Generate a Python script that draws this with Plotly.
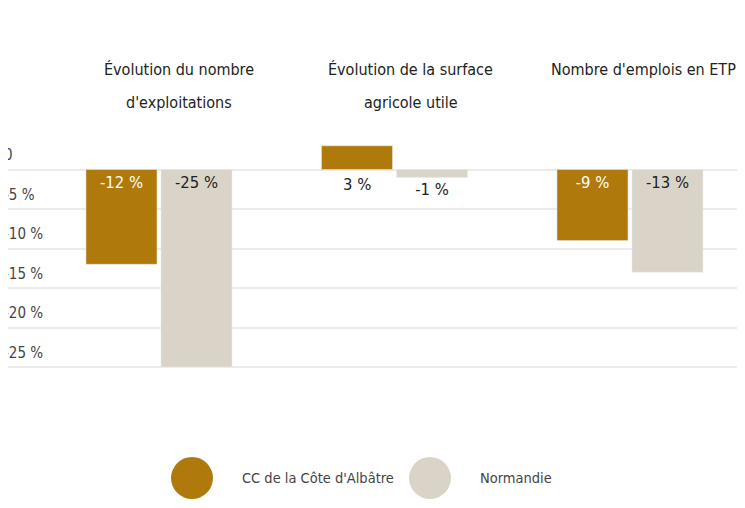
import plotly.graph_objects as go

categories = ["Évolution du nombre d'exploitations",
              "Évolution de la surface agricole utile",
              "Nombre d'emplois en ETP"]
title_lines = [["Évolution du nombre", "d'exploitations"],
               ["Évolution de la surface", "agricole utile"],
               ["Nombre d'emplois en ETP"]]
series_names = ["CC de la Côte d'Albâtre", "Normandie"]
values_cc = [-12, 3, -9]
values_norm = [-25, -1, -13]
ytick_vals = [0, -5, -10, -15, -20, -25]
ytick_text = ["0", "-5 %", "-10 %", "-15 %", "-20 %", "-25 %"]

COL_CC = "#B0790B"
COL_NORM = "#D9D4C7"
FONT = "DejaVu Sans Condensed, Liberation Sans Narrow, sans-serif"

OFF = 8  # page body margin
W, H = 745 - OFF, 508 - OFF
ML, MR, MT, MB = 0, 0, 122, 102
PW, PH = W - ML - MR, H - MT - MB
ZERO = 169.5 - OFF   # zero line (figure px)
UNIT = 7.9           # px per percent


def py(y):  # window pixel y -> paper y
    return (H - MB - (y - OFF)) / PH


def px(x):  # window pixel x -> paper x
    return (x - OFF - ML) / PW


def lab(v):
    return f"{v} %"


fig = go.Figure()
fig.add_trace(go.Bar(
    x=categories, y=values_cc, name=series_names[0], marker_color=COL_CC,
    text=[lab(v) if v < 0 else "" for v in values_cc],
    textposition="inside", insidetextanchor="start",
    insidetextfont=dict(color="white", size=16.5, family=FONT),
    textangle=0, showlegend=False, cliponaxis=False,
))
fig.add_trace(go.Bar(
    x=categories, y=values_norm, name=series_names[1], marker_color=COL_NORM,
    text=[lab(v) for v in values_norm],
    textposition=["inside" if v < -3 else "outside" for v in values_norm],
    insidetextanchor="start",
    insidetextfont=dict(color="#222222", size=16.5, family=FONT),
    outsidetextfont=dict(color="#222222", size=16.5, family=FONT),
    textangle=0, showlegend=False, cliponaxis=False,
))

annotations = []
# label for the positive bar, drawn below the zero line
for i, v in enumerate(values_cc):
    if v >= 0:
        annotations.append(dict(x=categories[i], y=0, xref="x", yref="y",
                                text=lab(v), showarrow=False, xshift=-37.5,
                                yanchor="top", yshift=-3,
                                font=dict(size=16.5, color="#222222", family=FONT)))
# category titles
title_shift = [20, 16, 13.5]
for i, lines in enumerate(title_lines):
    for j, line in enumerate(lines):
        annotations.append(dict(x=categories[i], xref="x", y=py(70 + 32 * j), yref="paper",
                                text=line, showarrow=False, xshift=title_shift[i],
                                yanchor="middle", xanchor="center",
                                font=dict(size=16, color="#222222", family=FONT)))
# legend
shapes = []
leg = [(192, 240, COL_CC, series_names[0]), (430, 478, COL_NORM, series_names[1])]
for cx, tx, col, name in leg:
    shapes.append(dict(type="circle", xref="paper", yref="paper",
                       xsizemode="pixel", ysizemode="pixel",
                       xanchor=px(cx), yanchor=py(478),
                       x0=-21, x1=21, y0=-21, y1=21,
                       fillcolor=col, line=dict(width=0)))
    annotations.append(dict(x=px(tx), y=py(478), xref="paper", yref="paper",
                            text=name, showarrow=False, xanchor="left", yanchor="middle",
                            font=dict(size=14.5, color="#444444", family=FONT)))

scale = 235.5
r0 = -(159.0 - OFF) / scale
r1 = r0 + PW / scale

fig.update_layout(
    width=W, height=H,
    margin=dict(l=ML, r=MR, t=MT, b=MB, autoexpand=False),
    plot_bgcolor="white", paper_bgcolor="white",
    barmode="group", bargap=0.363, bargroupgap=0.053,
    font=dict(family=FONT, size=16, color="#444444"),
    xaxis=dict(type="category", range=[r0, r1], showticklabels=False,
               showgrid=False, zeroline=False, showline=False, ticks="",
               automargin=False),
    yaxis=dict(range=[-(H - MB - ZERO) / UNIT, (ZERO - MT) / UNIT],
               tickvals=ytick_vals, ticktext=ytick_text,
               ticklabelposition="inside top", ticks="",
               ticklabelstandoff=-7, ticklabelshift=-4,
               tickfont=dict(size=15, color="#444444", family=FONT),
               showgrid=True, gridcolor="#EBEBEB", gridwidth=2,
               zeroline=False, showline=False, automargin=False),
    annotations=annotations, shapes=shapes,
)

fig.write_html("out.html")
